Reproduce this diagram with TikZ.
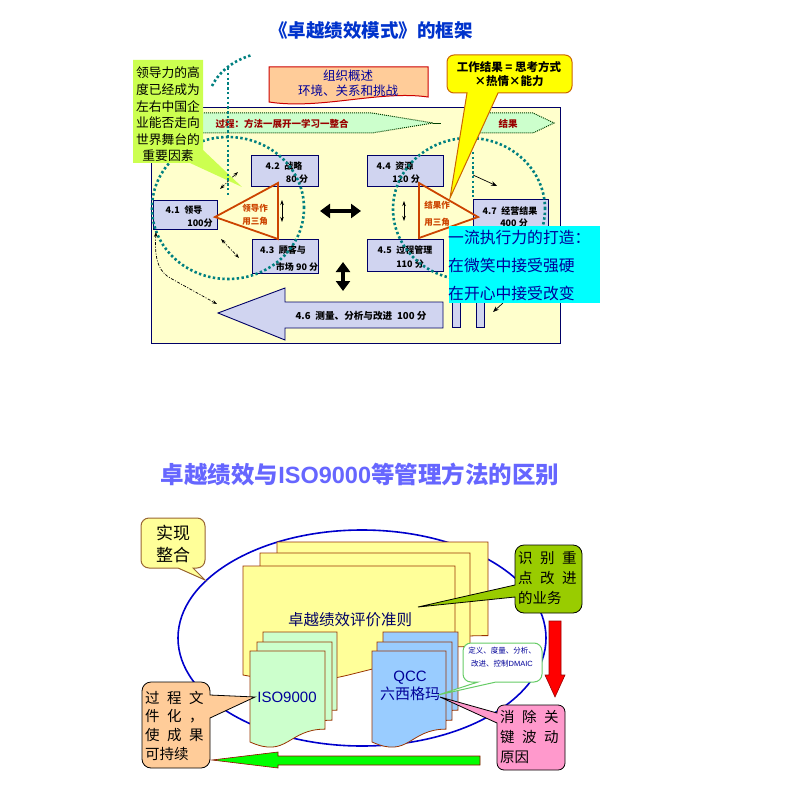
\documentclass[tikz,border=0pt]{standalone}
\usepackage{fontspec}
\setmainfont{Noto Sans CJK SC}
\newfontfamily\lat{Liberation Sans}
\usetikzlibrary{arrows.meta}
\definecolor{navy}{RGB}{0,0,102}
\definecolor{frameY}{RGB}{255,255,204}
\definecolor{bandG}{RGB}{204,255,204}
\definecolor{bandE}{RGB}{0,64,0}
\definecolor{dred}{RGB}{153,0,0}
\definecolor{tealc}{RGB}{0,128,128}
\definecolor{boxL}{RGB}{208,212,240}
\definecolor{triR}{RGB}{204,68,0}
\definecolor{limeG}{RGB}{204,255,80}
\definecolor{salmon}{RGB}{255,204,153}
\definecolor{titleB}{RGB}{0,51,204}
\definecolor{titleT}{RGB}{102,102,255}
\definecolor{cyanc}{RGB}{0,255,255}
\definecolor{txtB}{RGB}{0,0,153}
\definecolor{pageY}{RGB}{255,255,153}
\definecolor{pageG}{RGB}{204,255,204}
\definecolor{pageB}{RGB}{153,204,255}
\definecolor{pageE}{RGB}{153,51,0}
\definecolor{oliveG}{RGB}{153,204,0}
\definecolor{pinkc}{RGB}{255,153,204}
\definecolor{ellB}{RGB}{0,0,204}
\definecolor{dmaicG}{RGB}{102,204,102}
\definecolor{callY}{RGB}{255,255,0}
\definecolor{callYE}{RGB}{204,102,0}
\definecolor{brownE}{RGB}{153,102,51}
\newcommand\docpg[5]{%
  \draw[#5] (#1,#2) -- (#3,#2) -- (#3,#2+0.802*#4)
    .. controls ({(#1+#3)/2},#2+0.802*#4) and ({(#1+#3)/2},#2+1.107*#4) .. (#1,#2+0.934*#4) -- cycle;}
\begin{document}
\begin{tikzpicture}[x=1pt,y=-1pt,
  box/.style={draw=navy,fill=boxL,line width=0.9pt,inner sep=0pt},
  btxt/.style={font=\bfseries\fontsize{9}{10}\selectfont,inner sep=0pt,text=black},
  tealdots/.style={draw=tealc,line width=2.6pt,dash pattern=on 2.4pt off 2.4pt},
  thinarr/.style={line width=0.7pt,{Stealth[length=5pt,width=3.5pt]}-{Stealth[length=5pt,width=3.5pt]}},
  onearr/.style={line width=0.7pt,-{Stealth[length=6pt,width=4.5pt]}},
  fatarr/.style={line width=4pt,{Triangle[length=10pt,width=14pt]}-{Triangle[length=10pt,width=14pt]}},
  pagestyle/.style={draw=pageE,line width=0.8pt,fill=#1},
  ctxt/.style={inner sep=0pt,text=black,align=left,anchor=west},
]
\useasboundingbox (0,0) rectangle (793,794);
\fill[white] (0,0) rectangle (793,794);

% ---------- top title
\node[font=\bfseries\fontsize{18.5}{20}\selectfont,text=titleB] (t1) at (371,30) {《卓越绩效模式》的框架};

% ---------- organisation overview
\draw[draw=red!80!black,fill=salmon,line width=1pt] (269,67) -- (428,67) -- (428,97)
   .. controls (380,90) and (320,110) .. (269,102) -- cycle;
\node[font=\fontsize{12.5}{15}\selectfont,text=txtB,align=center] (org) at (348,83) {组织概述\\环境、关系和挑战};

% ---------- frame
\node[draw=navy,fill=frameY,line width=0.9pt,minimum width=409,minimum height=236,inner sep=0pt] (frame) at (355.5,225) {};

% ---------- process bands
\draw[fill=bandG,draw=bandE,densely dotted,line width=1pt] (154,113) -- (372,113) -- (433,123) -- (372,133) -- (154,133) -- cycle;
\draw[bandE,line width=0.8pt] (433,123) -- (441,123);
\draw[fill=bandG,draw=bandE,densely dotted,line width=1pt] (470,113) -- (533,113) -- (554,123) -- (533,133) -- (470,133) -- cycle;
\node[font=\bfseries\fontsize{9.5}{10}\selectfont,text=dred] (band1) at (282,124) {过程：方法一展开一学习一整合};
\node[font=\bfseries\fontsize{9.5}{10}\selectfont,text=dred] (band2) at (508,124) {结果};

% ---------- boxes
\node[box,minimum width=64,minimum height=29] (b41) at (185,214.5) {};
\node[box,minimum width=67,minimum height=31] (b42) at (284.5,170.5) {};
\node[box,minimum width=66,minimum height=34] (b43) at (285,256) {};
\node[box,minimum width=76,minimum height=31] (b44) at (405,170.5) {};
\node[box,minimum width=76,minimum height=32] (b45) at (405,255) {};
\node[box,minimum width=75,minimum height=30] (b47) at (510.5,214) {};
\draw[box] (218,313) -- (285,288) -- (285,302) -- (443,302) -- (443,328) -- (285,328) -- (285,340) -- cycle;
\coordinate (a46) at (218,313);
\draw[box] (452,290) rectangle (460,327);
\draw[box] (476,290) rectangle (484,327);

\node[btxt] (t41a) at (184,210) {4.1\enspace 领导};
\node[btxt] (t41b) at (200,223) {100分};
\node[btxt] (t42a) at (284,166) {4.2\enspace 战略};
\node[btxt] (t42b) at (297,179) {80 分};
\node[btxt] (t43a) at (283,250) {4.3\enspace 顾客与};
\node[btxt] (t43b) at (297,267) {市场 90 分};
\node[btxt] (t44a) at (395,166) {4.4\enspace 资源};
\node[btxt] (t44b) at (406,179) {120 分};
\node[btxt] (t45a) at (405,250) {4.5\enspace 过程管理};
\node[btxt] (t45b) at (410,264) {110 分};
\node[btxt] (t47a) at (510,211) {4.7\enspace 经营结果};
\node[btxt] (t47b) at (514,223) {400 分};
\node[btxt,font=\bfseries\fontsize{9.6}{10}\selectfont] (t46) at (361,316) {4.6\enspace 测量、分析与改进\enspace 100 分};

% ---------- teal dotted circles
\draw[tealdots] (228,208) ellipse [x radius=76pt,y radius=71pt];
\draw[tealdots] (469,209) ellipse [x radius=76pt,y radius=71pt];
\draw[tealdots] (212,86) .. controls (220,70) and (235,60) .. (252,55);
\draw[tealdots] (473,152) -- (473,197);

% ---------- triangles
\draw[triR,line width=1.8pt,line join=miter] (215,217) -- (278,183) -- (278,239) -- cycle;
\draw[triR,line width=1.8pt,line join=miter] (419,183) -- (478,217) -- (419,238) -- cycle;
\node[font=\bfseries\fontsize{8.5}{13}\selectfont,text=triR,align=center] (tri1) at (255,214.5) {领导作\\用三角};
\node[font=\bfseries\fontsize{8.5}{17}\selectfont,text=triR,align=center] (tri2) at (437,213.5) {结果作\\用三角};

% ---------- arrows
\coordinate (h1) at (320,211); \coordinate (h2) at (361,211);
\draw[fatarr] (h1) -- (h2);
\coordinate (v1) at (343,262); \coordinate (v2) at (343,291);
\draw[fatarr] (v1) -- (v2);
\coordinate (s1) at (282,200); \coordinate (s2) at (282,222);
\draw[thinarr] (s1) -- (s2);
\coordinate (s3) at (404,201); \coordinate (s4) at (404,221);
\draw[thinarr] (s3) -- (s4);
\coordinate (d1) at (220,189); \coordinate (d2) at (238,172);
\draw[thinarr,dash pattern=on 3pt off 1.5pt on 1pt off 1.5pt] (d1) -- (d2);
\coordinate (d3) at (221,239); \coordinate (d4) at (239,258);
\draw[thinarr,dash pattern=on 3pt off 1.5pt on 1pt off 1.5pt] (d3) -- (d4);
\coordinate (r1) at (473,175); \coordinate (r2) at (497,186);
\draw[onearr] (r1) -- (r2);
\coordinate (r3) at (503,303); \coordinate (r4) at (493,312);
\draw[onearr] (r3) -- (r4);
\coordinate (c1) at (156,232); \coordinate (c2) at (217,304);
\draw[thinarr,dash pattern=on 3pt off 1.5pt on 1pt off 1.5pt] (c1) .. controls (154,262) and (160,273) .. (172,279) -- (c2);

% ---------- lime callout
\fill[limeG] (133,60) -- (203,60) -- (203,150) -- (242,187) -- (190,163) -- (133,163) -- cycle;
\node[font=\fontsize{12.8}{16.6}\selectfont,align=center,inner sep=0pt] (lime) at (168,114.5)
  {领导力的高\\度已经成为\\左右中国企\\业能否走向\\世界舞台的\\重要因素};
\draw[tealdots] (228,68) -- (228,197);

% ---------- yellow callout
\draw[draw=callYE,fill=callY,line width=1pt] (467,93) -- (450,198) -- (498,93) [rounded corners=7pt]
  -- (572,93) -- (572,55) -- (447,55) -- (447,93) [sharp corners] -- cycle;
\node[font=\bfseries\fontsize{11.5}{14}\selectfont,align=center,inner sep=0pt] (work) at (509,74)
  {工作结果 = 思考方式\\×热情×能力};

% ---------- cyan box
\node[fill=cyanc,minimum width=151,minimum height=77,inner sep=0pt] (cyanb) at (524.5,264.5) {};
\node[font=\fontsize{15.8}{28}\selectfont,text=txtB,align=left,anchor=west,inner sep=0pt] (cyant) at (448,265)
  {一流执行力的打造：\\在微笑中接受强硬\\在开心中接受改变};

% =========== bottom diagram
\node[font=\bfseries\fontsize{23.5}{25}\selectfont,text=titleT] (t2) at (360,474) {卓越绩效与{\lat ISO9000}等管理方法的区别};

\draw[ellB,line width=1.6pt] (362,638) ellipse [x radius=184pt,y radius=108pt];

% yellow pages
\docpg{277}{542}{488}{116.7}{pagestyle=pageY}
\docpg{260}{553}{470}{116.7}{pagestyle=pageY}
\docpg{243}{566}{455}{116.7}{pagestyle=pageY}
\node[font=\fontsize{15.5}{17}\selectfont,text=navy] (crit) at (350,620) {卓越绩效评价准则};
% green pages
\docpg{263}{632}{337}{97.4}{pagestyle=pageG}
\docpg{257}{642}{332}{97.4}{pagestyle=pageG}
\docpg{250}{651}{325}{97.4}{pagestyle=pageG}
\node[font=\lat\fontsize{15}{17}\selectfont,text=txtB] (iso) at (287,697) {ISO9000};
% blue pages
\docpg{383}{632}{458}{97.4}{pagestyle=pageB}
\docpg{377}{642}{452}{97.4}{pagestyle=pageB}
\docpg{372}{651}{446}{97.4}{pagestyle=pageB}
\node[font=\fontsize{15}{18}\selectfont,text=txtB,align=center] (qcc) at (410,686) {{\lat QCC}\\六西格玛};

% callout: 实现整合
\draw[draw=brownE,fill=pageY,line width=1pt] (178,568) -- (205,580) -- (193,568) [rounded corners=8pt]
  -- (205,568) -- (205,518) -- (141,518) -- (141,568) [sharp corners] -- cycle;
\node[font=\fontsize{17}{22}\selectfont,align=center,inner sep=0pt] (integ) at (173,544) {实现\\整合};

% callout: 识别重点改进的业务
\draw[draw=black,fill=oliveG,line width=0.8pt] (515,597) -- (418,607) -- (515,585) [rounded corners=9pt]
  -- (515,545) -- (582,545) -- (582,613) -- (515,613) [sharp corners] -- cycle;
\node[ctxt,font=\fontsize{14.5}{20}\selectfont] (ident) at (518,578)
  {识\hspace{7.5pt}别\hspace{7.5pt}重\\点\hspace{7.5pt}改\hspace{7.5pt}进\\的业务};

% red arrow
\draw[draw=dred,fill=red,line width=0.6pt] (549,621) -- (561,621) -- (561,675) -- (565,675) -- (555,697) -- (545,675) -- (549,675) -- cycle;

% callout: DMAIC
\draw[draw=dmaicG,fill=white,line width=1pt] (496,682) -- (438,695) -- (478,682) [rounded corners=8pt]
  -- (463,682) -- (463,643) -- (542,643) -- (542,682) [sharp corners] -- cycle;
\node[font=\fontsize{7.5}{13}\selectfont,text=txtB,align=center,inner sep=0pt] (dmaic) at (502,657)
  {定义、度量、分析、\\改进、控制{\lat DMAIC}};

% callout: 消除关键波动原因
\draw[draw=black,fill=pinkc,line width=0.8pt] (497,723) -- (440,697) -- (497,713) [rounded corners=7pt]
  -- (497,705) -- (565,705) -- (565,770) -- (497,770) [sharp corners] -- cycle;
\node[ctxt,font=\fontsize{14.5}{20}\selectfont] (elim) at (500,737)
  {消\hspace{7.5pt}除\hspace{7.5pt}关\\键\hspace{7.5pt}波\hspace{7.5pt}动\\原因};

% callout: 过程文件化
\draw[draw=black,fill=salmon,line width=0.8pt] (210,718) -- (255,697) -- (210,695) [rounded corners=9pt]
  -- (210,682) -- (142,682) -- (142,768) -- (210,768) [sharp corners] -- cycle;
\node[ctxt,font=\fontsize{14.5}{18.7}\selectfont] (docu) at (145,725.5)
  {过\hspace{7.5pt}程\hspace{7.5pt}文\\件\hspace{7.5pt}化\hspace{7.5pt}，\\使\hspace{7.5pt}成\hspace{7.5pt}果\\可持续};

% green arrow
\draw[draw=dred,fill=green,line width=0.6pt] (480,756) -- (278,756) -- (278,752) -- (212,760) -- (278,768) -- (278,765) -- (480,765) -- cycle;
\end{tikzpicture}
\end{document}
